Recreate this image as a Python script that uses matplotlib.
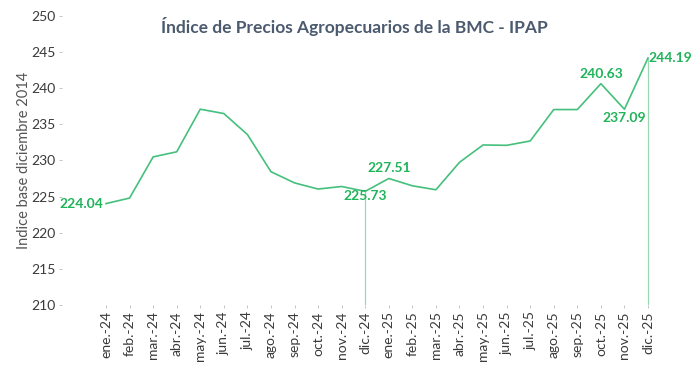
import matplotlib.pyplot as plt
import numpy as np

plt.rcParams['font.family'] = ['Lato', 'DejaVu Sans']

# months of the index (ene.-24 .. dic.-25)
meses = ['ene.-24', 'feb.-24', 'mar.-24', 'abr.-24', 'may.-24', 'jun.-24',
         'jul.-24', 'ago.-24', 'sep.-24', 'oct.-24', 'nov.-24', 'dic.-24',
         'ene.-25', 'feb.-25', 'mar.-25', 'abr.-25', 'may.-25', 'jun.-25',
         'jul.-25', 'ago.-25', 'sep.-25', 'oct.-25', 'nov.-25', 'dic.-25']
ipap = [224.04, 224.8, 230.5, 231.2, 237.1, 236.5,
        233.6, 228.45, 226.9, 226.05, 226.4, 225.73,
        227.51, 226.5, 225.95, 229.75, 232.15, 232.1,
        232.7, 237.05, 237.05, 240.63, 237.09, 244.19]
y_ticks = [210, 215, 220, 225, 230, 235, 240, 245, 250]

line_col = '#45c07c'
lab_col = '#1fb35a'
txt_col = '#3a3a3a'

fig = plt.figure(figsize=(7, 3.71), dpi=100)
ax = fig.add_axes([62 / 700, 66 / 371, 628 / 700, 289 / 371])

x = np.arange(len(meses))
ax.plot(x, ipap, color=line_col, lw=1.2, zorder=3)

# drop lines for december values
for i in (11, 23):
    ax.vlines(x[i], 210, ipap[i], color='#9ad9b2', lw=0.9, zorder=2)

# value labels
kw = dict(textcoords='offset points', color=lab_col, fontsize=10, fontweight='bold')
ax.annotate(f'{ipap[0]:.2f}', (x[0], ipap[0]), xytext=(-2, 0), ha='right', va='center', **kw)
ax.annotate(f'{ipap[11]:.2f}', (x[11], ipap[11]), xytext=(0, -3), ha='center', va='center', **kw)
ax.annotate(f'{ipap[12]:.2f}', (x[12], ipap[12]), xytext=(0, 3), ha='center', va='bottom', **kw)
ax.annotate(f'{ipap[21]:.2f}', (x[21], ipap[21]), xytext=(0, 3), ha='center', va='bottom', **kw)
ax.annotate(f'{ipap[22]:.2f}', (x[22], ipap[22]), xytext=(0, -2), ha='center', va='top', **kw)
ax.annotate(f'{ipap[23]:.2f}', (x[23], ipap[23]), xytext=(0, 0), ha='left', va='center', **kw)

ax.set_xlim(-44 / 23.57, 23 + 42 / 23.57)
ax.set_ylim(210, 250)
ax.set_xticks(x)
ax.set_xticklabels(meses, rotation=90)
ax.set_yticks(y_ticks)
ax.tick_params(axis='both', length=2.5, width=0.6, color='#bbbbbb',
               labelsize=10, labelcolor=txt_col, pad=2)
for s in ax.spines.values():
    s.set_visible(False)

ax.set_ylabel('Indice base diciembre 2014', fontsize=10.5, color='#555555')
ax.yaxis.set_label_coords(-(62 - 31) / 628, 0.5)
fig.text(354 / 700, 1 - 27 / 371, 'Índice de Precios Agropecuarios de la BMC - IPAP',
         ha='center', va='center', fontsize=12.5, fontweight='bold', color='#4b5a6e')

fig.savefig('out.png', dpi=100)
